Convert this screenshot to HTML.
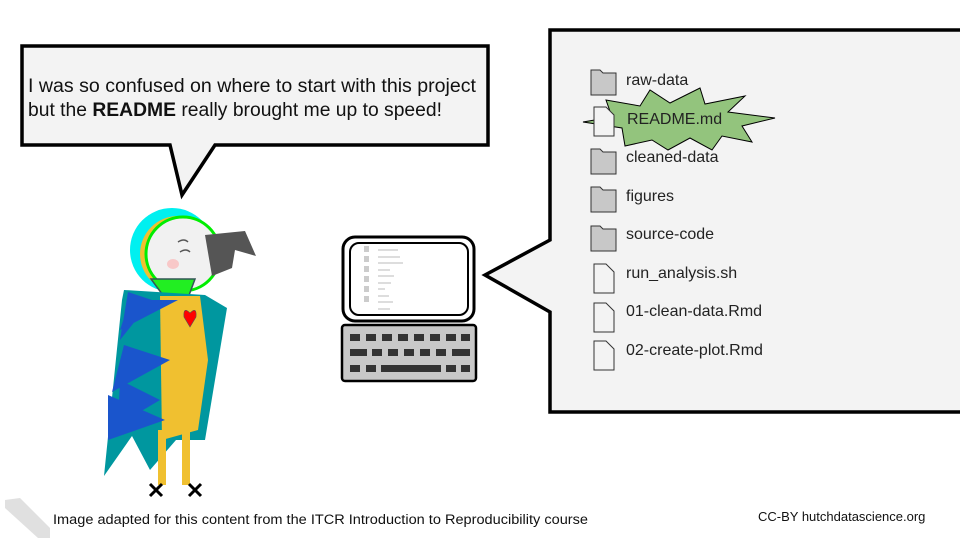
<!DOCTYPE html>
<html><head><meta charset="utf-8"><style>
body{margin:0;width:960px;height:540px;background:#fff;overflow:hidden;font-family:"Liberation Sans",sans-serif}
</style></head><body>
<svg width="960" height="540" viewBox="0 0 960 540" xmlns="http://www.w3.org/2000/svg" font-family="Liberation Sans, sans-serif">
<!-- bubble 1 -->
<path d="M22,46 H488 V145 H215 L182,195 L170,145 H22 Z" fill="#f3f3f3" stroke="#000" stroke-width="3.5"/>
<text x="28" y="92" font-size="19" fill="#111" textLength="448" lengthAdjust="spacingAndGlyphs">I was so confused on where to start with this project</text>
<text x="28" y="116" font-size="19" fill="#111" textLength="414" lengthAdjust="spacingAndGlyphs">but the <tspan font-weight="bold">README</tspan> really brought me up to speed!</text>
<!-- bubble 2 -->
<path d="M550,30 H962 V412 H550 V312 L485,275 L550,240 Z" fill="#f3f3f3" stroke="#000" stroke-width="3.5"/>
<!-- starburst -->
<path d="M583,122 L612,117 L606,100 L640,106 L650,90 L670,103 L700,88 L705,104 L745,96 L728,112 L775,118 L742,126 L752,142 L722,136 L712,150 L690,138 L668,150 L652,140 L625,146 L622,128 Z" fill="#93c47d" stroke="#000" stroke-width="1"/>
<g stroke="#333" stroke-width="1" fill="#c8c8c8">
<path d="M591,70 h9 l3,3 h13 v22 h-25 z"/><path d="M591,149 h9 l3,3 h13 v22 h-25 z"/>
<path d="M591,187 h9 l3,3 h13 v22 h-25 z"/><path d="M591,226 h9 l3,3 h13 v22 h-25 z"/>
</g>
<g stroke="#333" stroke-width="1" fill="#f3f3f3">
<path d="M594,107 h12 l8,8 v21 h-20 z"/><path d="M594,264 h12 l8,8 v21 h-20 z"/>
<path d="M594,303 h12 l8,8 v21 h-20 z"/><path d="M594,341 h12 l8,8 v21 h-20 z"/>
</g>
<g font-size="16" fill="#222">
<text x="626" y="85">raw-data</text><text x="627" y="124">README.md</text>
<text x="626" y="162">cleaned-data</text><text x="626" y="201">figures</text>
<text x="626" y="239">source-code</text><text x="626" y="278">run_analysis.sh</text>
<text x="626" y="316">01-clean-data.Rmd</text><text x="626" y="355">02-create-plot.Rmd</text>
</g>
<!-- computer -->
<rect x="343" y="237" width="131" height="84" rx="12" fill="#fff" stroke="#000" stroke-width="3"/>
<rect x="350" y="243" width="118" height="72" rx="9" fill="#fff" stroke="#000" stroke-width="2"/>
<g fill="#ccc">
<rect x="364" y="246" width="5" height="6"/><rect x="364" y="256" width="5" height="6"/><rect x="364" y="266" width="5" height="6"/><rect x="364" y="276" width="5" height="6"/><rect x="364" y="286" width="5" height="6"/><rect x="364" y="296" width="5" height="6"/>
</g>
<g stroke="#bbb" stroke-width="1">
<line x1="378" y1="250" x2="398" y2="250"/><line x1="378" y1="257" x2="400" y2="257"/><line x1="378" y1="263" x2="403" y2="263"/><line x1="378" y1="270" x2="390" y2="270"/><line x1="378" y1="276" x2="394" y2="276"/><line x1="378" y1="283" x2="391" y2="283"/><line x1="378" y1="289" x2="385" y2="289"/><line x1="378" y1="296" x2="389" y2="296"/><line x1="378" y1="302" x2="393" y2="302"/><line x1="378" y1="309" x2="390" y2="309"/>
</g>
<rect x="342" y="325" width="134" height="56" rx="3" fill="#c8c8c8" stroke="#000" stroke-width="2.5"/>
<g fill="#333">
<rect x="350" y="334" width="10" height="7"/><rect x="366" y="334" width="10" height="7"/><rect x="382" y="334" width="10" height="7"/><rect x="398" y="334" width="10" height="7"/><rect x="414" y="334" width="10" height="7"/><rect x="430" y="334" width="10" height="7"/><rect x="446" y="334" width="10" height="7"/><rect x="461" y="334" width="9" height="7"/>
<rect x="350" y="349" width="17" height="7"/><rect x="372" y="349" width="10" height="7"/><rect x="388" y="349" width="10" height="7"/><rect x="404" y="349" width="10" height="7"/><rect x="420" y="349" width="10" height="7"/><rect x="436" y="349" width="10" height="7"/><rect x="452" y="349" width="18" height="7"/>
<rect x="350" y="365" width="10" height="7"/><rect x="366" y="365" width="10" height="7"/><rect x="381" y="365" width="60" height="7"/><rect x="446" y="365" width="10" height="7"/><rect x="461" y="365" width="9" height="7"/>
</g>
<!-- parrot -->
<ellipse cx="172" cy="250" rx="42" ry="42" fill="#00f0f0"/>
<ellipse cx="178" cy="254" rx="38" ry="38" fill="#f0c030"/>
<circle cx="183" cy="254" r="37" fill="#f1f1f1" stroke="#00ee00" stroke-width="3"/>
<path d="M205,235 L245,231 L256,256 L235,250 L232,268 L212,276 Z" fill="#555"/>
<path d="M178,242 q6,-4 10,0 M180,252 q6,-4 10,0" stroke="#555" stroke-width="1.5" fill="none"/>
<ellipse cx="173" cy="264" rx="6" ry="5" fill="#f8c8c8"/>
<path d="M151,279 H195 L188,298 H165 Z" fill="#22ee22" stroke="#355" stroke-width="1.5"/>
<path d="M124,290 L205,295 L227,308 L205,440 L176,440 L150,470 L132,436 L104,476 L122,300 Z" fill="#00979f"/>
<path d="M160,296 L200,296 L208,360 L198,430 L162,440 Z" fill="#f0c030"/>
<path d="M128,292 L152,300 L120,340 Z M124,345 L170,360 L112,392 Z M120,380 L160,400 L118,425 Z M108,395 L165,420 L108,440 Z M130,300 L178,300 L120,330 Z" fill="#1a55cc"/>
<path d="M158,430 h8 v55 h-8 z M182,430 h8 v55 h-8 z" fill="#f0c030"/>
<path d="M190,313 q-7,-7 -6,4 l6,10 l6,-10 q1,-11 -6,-4 z" fill="#f00" stroke="#555" stroke-width="0.6"/>
<path d="M150,484 l12,12 M162,484 l-12,12 M189,484 l12,12 M201,484 l-12,12" stroke="#000" stroke-width="3"/>
<!-- footer -->
<path d="M5,500 L20,498 L50,528 L50,538 L38,538 L5,508 Z" fill="#e0e0e0"/>
<text x="53" y="524" font-size="13.5" fill="#111" textLength="535" lengthAdjust="spacingAndGlyphs">Image adapted for this content from the ITCR Introduction to Reproducibility course</text>
<text x="758" y="521" font-size="13" fill="#111">CC-BY hutchdatascience.org</text>
</svg>
</body></html>
